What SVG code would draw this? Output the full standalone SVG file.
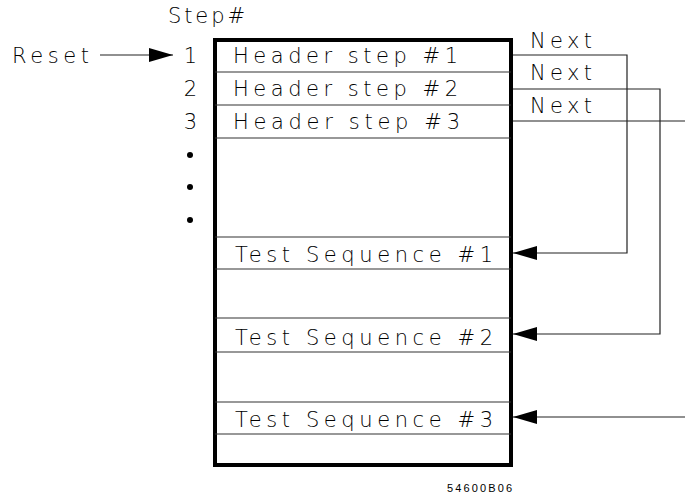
<svg xmlns="http://www.w3.org/2000/svg" width="685" height="497" viewBox="0 0 685 497">
<style>
text{font-family:"DejaVu Sans","Liberation Sans",sans-serif;font-weight:200;font-size:21px;fill:#000}
.row{fill:none;stroke:#333;stroke-width:1.2}
.conn{fill:none;stroke:#222;stroke-width:1.2}
text.cap{font-family:"Liberation Sans",Arial,sans-serif;font-weight:400;font-size:11px}
</style>
<defs>
<marker id="ah" viewBox="0 0 24 14" refX="24" refY="7" markerWidth="24" markerHeight="14" markerUnits="userSpaceOnUse" orient="auto">
<path d="M0,0 L24,7 L0,14 Z" fill="#000"/>
</marker>
</defs>
<rect x="0" y="0" width="685" height="497" fill="#fff"/>
<g id="memory-block">
<rect x="215" y="40" width="296" height="425" fill="none" stroke="#000" stroke-width="4"/>
</g>
<g id="header1"><line class="row" x1="215" y1="72" x2="511" y2="72"/><text x="233" y="63" textLength="225">Header step #1</text></g>
<g id="header2"><line class="row" x1="215" y1="105" x2="511" y2="105"/><text x="233" y="96" textLength="225">Header step #2</text></g>
<g id="header3"><line class="row" x1="215" y1="138" x2="511" y2="138"/><text x="233" y="129" textLength="227">Header step #3</text></g>
<g id="seq1"><line class="row" x1="215" y1="237" x2="511" y2="237"/><line class="row" x1="215" y1="269" x2="511" y2="269"/><text x="235" y="262" textLength="258">Test Sequence #1</text></g>
<g id="seq2"><line class="row" x1="215" y1="318" x2="511" y2="318"/><line class="row" x1="215" y1="352" x2="511" y2="352"/><text x="235" y="345" textLength="258">Test Sequence #2</text></g>
<g id="seq3"><line class="row" x1="215" y1="402" x2="511" y2="402"/><line class="row" x1="215" y1="434" x2="511" y2="434"/><text x="235" y="427" textLength="258">Test Sequence #3</text></g>
<g id="step-labels">
<text x="168" y="23" textLength="77">Step#</text>
<text x="197" y="63" text-anchor="end">1</text>
<text x="197" y="96" text-anchor="end">2</text>
<text x="197" y="129" text-anchor="end">3</text>
<circle cx="190" cy="155" r="3" fill="#000"/>
<circle cx="190" cy="187" r="3" fill="#000"/>
<circle cx="190" cy="220" r="3" fill="#000"/>
</g>
<g id="reset"><text x="12" y="63" textLength="77">Reset</text></g>
<g id="connectors">
<line class="conn" x1="100" y1="55" x2="173" y2="55" marker-end="url(#ah)"/>
<polyline class="conn" points="513,55 627,55 627,253 513,253" marker-end="url(#ah)"/>
<polyline class="conn" points="513,89 660,89 660,334 513,334" marker-end="url(#ah)"/>
<line class="conn" x1="513" y1="121" x2="685" y2="121"/>
<line class="conn" x1="685" y1="417" x2="513" y2="417" marker-end="url(#ah)"/>
<text x="530" y="48" textLength="62">Next</text>
<text x="530" y="80" textLength="62">Next</text>
<text x="530" y="113" textLength="62">Next</text>
</g>
<text class="cap" x="447" y="492" textLength="65">54600B06</text>
</svg>
